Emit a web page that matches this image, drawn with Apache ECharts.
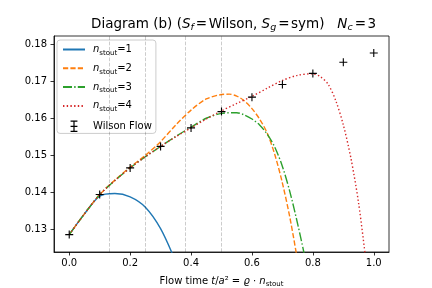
<!DOCTYPE html>
<html>
<head>
<meta charset="utf-8">
<script src="https://cdn.jsdelivr.net/npm/echarts@6/dist/echarts.min.js"></script>
<style>html,body{margin:0;padding:0;background:#fff;}#c{width:432px;height:288px;}</style>
</head>
<body>
<div id="c"></div>
<script>
// Wilson flow reference points
const flowT = [0.0, 0.1, 0.2, 0.3, 0.4, 0.5, 0.6, 0.7, 0.8, 0.9, 1.0];
const flowE = [0.1286, 0.1394, 0.1466, 0.1524, 0.1574, 0.1618, 0.1657, 0.1691, 0.1721, 0.1751, 0.1776];
// n_stout = 1
const n1T = [0.0, 0.05, 0.1, 0.15, 0.2, 0.25, 0.3, 0.35];
const n1E = [0.1286, 0.1342, 0.1390, 0.1397, 0.1388, 0.1360, 0.1302, 0.1212];
// n_stout = 2
const n2T = [0.0, 0.05, 0.1, 0.15, 0.2, 0.25, 0.3, 0.35, 0.4, 0.45, 0.5, 0.525, 0.55, 0.575, 0.6, 0.625, 0.65, 0.675, 0.7, 0.725, 0.75];
const n2E = [0.1286, 0.1342, 0.1394, 0.1433, 0.1468, 0.1500, 0.1537, 0.1582, 0.1622, 0.1652, 0.1664, 0.1665, 0.1660, 0.1647, 0.1626, 0.1598, 0.1560, 0.1502, 0.1425, 0.1330, 0.1215];
// n_stout = 3
const n3T = [0.0, 0.05, 0.1, 0.15, 0.2, 0.25, 0.3, 0.35, 0.4, 0.45, 0.5, 0.55, 0.575, 0.6, 0.625, 0.65, 0.675, 0.7, 0.725, 0.75, 0.775, 0.8];
const n3E = [0.1286, 0.1342, 0.1394, 0.1432, 0.1466, 0.1496, 0.1524, 0.1551, 0.1576, 0.1600, 0.1613, 0.1615, 0.1609, 0.1598, 0.1582, 0.1557, 0.1522, 0.1470, 0.1400, 0.1315, 0.1220, 0.1110];
// n_stout = 4
const n4T = [0.0, 0.05, 0.1, 0.15, 0.2, 0.25, 0.3, 0.35, 0.4, 0.45, 0.5, 0.55, 0.6, 0.65, 0.7, 0.75, 0.8, 0.825, 0.85, 0.875, 0.9, 0.925, 0.95, 0.975];
const n4E = [0.1286, 0.1342, 0.1394, 0.1432, 0.1466, 0.1496, 0.1524, 0.1550, 0.1574, 0.1598, 0.1620, 0.1640, 0.1659, 0.1681, 0.1702, 0.1716, 0.1720, 0.1712, 0.1692, 0.1648, 0.1582, 0.1492, 0.1372, 0.1210];
// reference vertical lines
const refLines = [0.125, 0.25, 0.375, 0.5];
// ticks
const xTicks = [0.0, 0.2, 0.4, 0.6, 0.8, 1.0];
const yTicks = [0.13, 0.14, 0.15, 0.16, 0.17, 0.18];

const zip = (a, b) => a.map((v, i) => [v, b[i]]);
const FONT = 'DejaVu Sans';
const rich = {
  sp: {fontFamily: FONT, fontSize: 10, width: 3, lineHeight: 14},
  i: {fontFamily: FONT, fontStyle: 'italic', fontSize: 10, color: '#000', lineHeight: 14},
  t: {fontFamily: FONT, fontSize: 10, color: '#000', lineHeight: 14},
  sub: {fontFamily: FONT, fontSize: 7, color: '#000', lineHeight: 8, verticalAlign: 'bottom'}
};
const richTitle = {
  i: {fontFamily: FONT, fontStyle: 'italic', fontSize: 13.5, color: '#000', lineHeight: 17},
  t: {fontFamily: FONT, fontSize: 13.5, color: '#000', lineHeight: 17},
  eq: {fontFamily: FONT, fontSize: 13.5, color: '#000', lineHeight: 17, padding: [0, 1.5, 0, 2]},
  sub: {fontFamily: FONT, fontStyle: 'italic', fontSize: 9.5, color: '#000', lineHeight: 10, verticalAlign: 'bottom'}
};
const legendNames = {
  'n1': '{sp|}{i|n}{sub|stout}{t|=1}',
  'n2': '{sp|}{i|n}{sub|stout}{t|=2}',
  'n3': '{sp|}{i|n}{sub|stout}{t|=3}',
  'n4': '{sp|}{i|n}{sub|stout}{t|=4}',
  'Wilson Flow': '{sp|}{t|Wilson Flow}'
};

const chart = echarts.init(document.getElementById('c'), null, {renderer: 'canvas'});
const lineSeries = (name, t, e, color, type) => ({
  name, type: 'line', data: zip(t, e), smooth: 0.3, showSymbol: false, symbol: 'none',
  lineStyle: {color, width: 1.4, type}, itemStyle: {color}, clip: true, silent: true
});
const hiddenSym = {opacity: 0};
chart.setOption({
  animation: false,
  title: {
    text: '{t|Diagram (b) (}{i|S}{sub|f}{eq|=}{t|Wilson, }{i|S}{sub|g}{eq|=}{t|sym)   }{i|N}{sub|c}{eq|=}{t|3}',
    left: 86, top: 11,
    textStyle: {rich: richTitle, fontFamily: FONT, fontSize: 13.5, fontWeight: 'normal', color: '#000'}
  },
  grid: {left: 54, right: 43, top: 36, bottom: 36, containLabel: false, outerBoundsMode: 'none', show: true, borderColor: '#000', borderWidth: 0.8, backgroundColor: 'transparent'},
  legend: {
    orient: 'vertical', left: 57, top: 40,
    data: [
      {name: 'n1', itemStyle: hiddenSym},
      {name: 'n2', itemStyle: hiddenSym},
      {name: 'n3', itemStyle: hiddenSym},
      {name: 'n4', itemStyle: hiddenSym},
      {name: 'Wilson Flow', icon: 'path://M0,0M22,14M7,1L15,1M11,1L11,13M7,13L15,13M7,7L15,7', itemStyle: {color: 'rgba(0,0,0,0)', borderColor: '#000', borderWidth: 1.2}}
    ],
    formatter: n => legendNames[n],
    itemWidth: 22, itemHeight: 12, itemGap: 6.8,
    padding: [4.5, 4, 0.5, 5],
    borderColor: '#cccccc', borderWidth: 1, borderRadius: 3, backgroundColor: 'rgba(255,255,255,0.8)',
    textStyle: {rich, fontFamily: FONT, fontSize: 10, color: '#000'}
  },
  xAxis: {
    type: 'value', min: -0.05, max: 1.05,
    name: '{t|Flow time }{i|t}{t|/}{i|a}{t|² = }{i|ϱ}{t| · }{i|n}{sub|stout}',
    nameLocation: 'middle', nameGap: 22,
    nameTextStyle: {rich, fontFamily: FONT, fontSize: 10, color: '#000'},
    axisLine: {show: true, onZero: false, lineStyle: {color: '#000', width: 0.8}},
    axisTick: {show: true, length: 3.5, lineStyle: {color: '#000', width: 0.8}, customValues: xTicks},
    axisLabel: {show: true, margin: 6, fontFamily: FONT, fontSize: 10, color: '#000', customValues: xTicks, formatter: v => v.toFixed(1)},
    splitLine: {show: false}
  },
  yAxis: {
    type: 'value', min: 0.1239, max: 0.1822,
    axisLine: {show: true, onZero: false, lineStyle: {color: '#000', width: 0.8}},
    axisTick: {show: true, length: 3.5, lineStyle: {color: '#000', width: 0.8}, customValues: yTicks},
    axisLabel: {show: true, margin: 7, fontFamily: FONT, fontSize: 10, color: '#000', customValues: yTicks, formatter: v => v.toFixed(2)},
    splitLine: {show: false}
  },
  series: [
    {
      name: 'refs', type: 'line', data: [], silent: true,
      markLine: {
        silent: true, symbol: ['none', 'none'], label: {show: false},
        lineStyle: {color: 'rgba(0,0,0,0.2)', width: 1, type: [3.7, 1.6]},
        data: refLines.map(v => ({xAxis: v}))
      }
    },
    lineSeries('n1', n1T, n1E, '#1f77b4', 'solid'),
    lineSeries('n2', n2T, n2E, '#ff7f0e', [5.2, 2.2]),
    lineSeries('n3', n3T, n3E, '#2ca02c', [9, 2.2, 1.4, 2.2]),
    lineSeries('n4', n4T, n4E, '#d62728', [1.4, 2.3]),
    {
      name: 'Wilson Flow', type: 'scatter', data: zip(flowT, flowE),
      symbol: 'path://M0,4L8,4M4,0L4,8', symbolSize: 8,
      itemStyle: {color: 'rgba(0,0,0,0)', borderColor: '#000', borderWidth: 1.1, opacity: 1},
      silent: true, z: 5
    }
  ]
});
</script>
</body>
</html>
